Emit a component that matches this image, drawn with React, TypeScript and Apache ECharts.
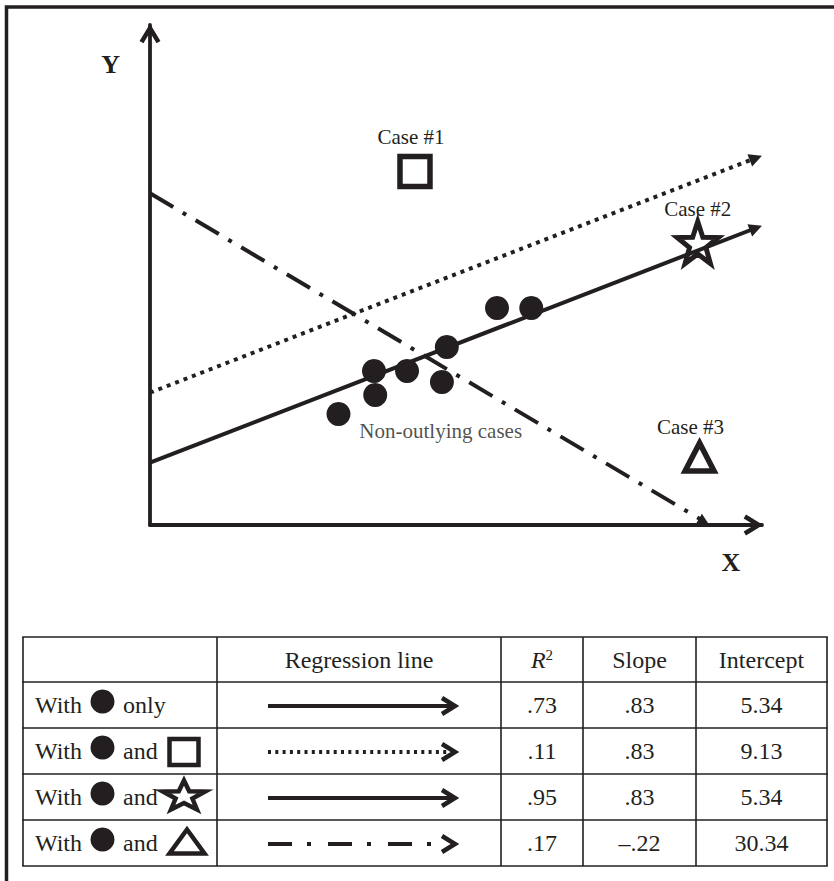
import React, { useEffect, useRef } from 'react';
import * as echarts from 'echarts';

const INK = '#231f20';
const FONT = '"Liberation Serif", "Times New Roman", Times, serif';

// ---------- chart data (arbitrary axis units, 0–100 on both axes) ----------
const nonOutlyingX = [30.8, 36.8, 36.6, 42.0, 47.7, 48.5, 56.7, 62.3];
const nonOutlyingY = [22.2, 26.0, 30.8, 30.8, 28.6, 35.6, 43.4, 43.4];

const caseNames = ['Case #1', 'Case #2', 'Case #3'];
const caseX = [43.3, 89.5, 89.8];
const caseY = [70.7, 56.5, 13.6];

const solidLine = [[0, 12.46], [99.0, 59.4]];
const dottedLine = [[0, 26.46], [99.0, 73.4]];
const dashDotLine = [[0, 66.34], [90.5, 0.74]];

const annotationText = 'Non-outlying cases';
const annotationPos = [47.5, 18.9];

const axisNames = ['X', 'Y'];
// axis ends: [x, y, direction (0 = right, 1 = up)]
const axisEnds = [[100, 0, 0], [0, 100, 1]];

// ---------- table data ----------
const tableHeaders = ['', 'Regression line', 'R2', 'Slope', 'Intercept'];
const rowLead = ['With', 'With', 'With', 'With'];
const rowConnectors = ['only', 'and', 'and', 'and'];
const rowMarkers = ['', 'square', 'star', 'triangle'];
const rowLineStyles = ['solid', 'dotted', 'solid', 'dashdot'];
const r2Values = ['.73', '.11', '.95', '.17'];
const slopeValues = ['.83', '.83', '.83', '\u2013.22'];
const interceptValues = ['5.34', '9.13', '5.34', '30.34'];

// ---------- shapes / styles ----------
const STAR_PATH =
  'path://M50 0 L61.76 33.82 L97.55 34.55 L69.02 56.18 L79.39 90.45 L50 70 L20.61 90.45 L30.98 56.18 L2.45 34.55 L38.24 33.82 Z';

const caseStyles = [
  { symbol: 'rect', size: [30, 30], fill: '#fff', border: 5.5, dist: 6, offset: [-4, 0] },
  { symbol: STAR_PATH, size: [41, 42], fill: 'rgba(255,255,255,0)', border: 5, dist: -1, offset: [0, 0] },
  { symbol: 'triangle', size: [29, 28], fill: '#fff', border: 5.5, dist: 3, offset: [-9, 0] },
];

function starPoints(cx: number, cy: number, w: number, h: number, inner = 0.4) {
  const pts: number[][] = [];
  for (let k = 0; k < 10; k++) {
    const a = -Math.PI / 2 + (k * Math.PI) / 5;
    const r = k % 2 === 0 ? 1 : inner;
    pts.push([cx + (r * Math.cos(a) * w) / 1.902, cy + ((r * Math.sin(a) + 0.0955) * h) / 1.809]);
  }
  return pts;
}

function buildTable() {
  const els: any[] = [];
  const colX = [23, 217, 501, 583, 696, 827];
  const rowY = [637, 682, 728, 774, 820, 866];
  const lineStyle = { stroke: INK, lineWidth: 1.6 };
  rowY.forEach((y) =>
    els.push({ type: 'line', silent: true, shape: { x1: colX[0] - 0.8, y1: y, x2: colX[5] + 0.8, y2: y }, style: lineStyle })
  );
  colX.forEach((x) =>
    els.push({ type: 'line', silent: true, shape: { x1: x, y1: rowY[0], x2: x, y2: rowY[5] }, style: lineStyle })
  );
  const txt = (text: string, x: number, y: number, align = 'center') => ({
    type: 'text',
    silent: true,
    x,
    y,
    style: { text, fill: INK, fontSize: 24, fontFamily: FONT, align, verticalAlign: 'middle' },
  });
  const colCenter = (c: number) => (colX[c] + colX[c + 1]) / 2;
  const headY = (rowY[0] + rowY[1]) / 2;
  tableHeaders.forEach((h, c) => {
    if (!h) return;
    if (h === 'R2') {
      els.push({
        type: 'text',
        silent: true,
        x: colCenter(c),
        y: headY,
        style: {
          text: '{i|R}{s|2}',
          align: 'center',
          verticalAlign: 'middle',
          fill: INK,
          rich: {
            i: { fontSize: 24, fontStyle: 'italic', fontFamily: FONT, fill: INK },
            s: { fontSize: 15, fontFamily: FONT, fill: INK, verticalAlign: 'top' },
          },
        },
      });
    } else {
      els.push(txt(h, colCenter(c), headY));
    }
  });

  for (let i = 0; i < 4; i++) {
    const cy = (rowY[i + 1] + rowY[i + 2]) / 2;
    els.push(txt(rowLead[i], 35, cy, 'left'));
    els.push({ type: 'circle', silent: true, shape: { cx: 102.5, cy: cy - 3.5, r: 12 }, style: { fill: INK } });
    els.push(txt(rowConnectors[i], 123, cy, 'left'));
    const m = rowMarkers[i];
    if (m === 'square') {
      els.push({
        type: 'rect',
        silent: true,
        shape: { x: 184 - 14.5, y: cy + 1 - 13, width: 29, height: 26 },
        style: { fill: '#fff', stroke: INK, lineWidth: 4.5 },
      });
    } else if (m === 'star') {
      els.push({
        type: 'polygon',
        silent: true,
        shape: { points: starPoints(184, cy - 2, 42, 29) },
        style: { fill: '#fff', stroke: INK, lineWidth: 4.5, lineJoin: 'miter' },
      });
    } else if (m === 'triangle') {
      const cx = 187, ty = cy - 1.5, w = 35, h = 24;
      els.push({
        type: 'polygon',
        silent: true,
        shape: { points: [[cx, ty - h / 2], [cx + w / 2, ty + h / 2], [cx - w / 2, ty + h / 2]] },
        style: { fill: '#fff', stroke: INK, lineWidth: 4.5 },
      });
    }
    // regression-line sample
    const ly = cy + 1;
    const ls = rowLineStyles[i];
    const dash = ls === 'dotted' ? [3, 4.3] : ls === 'dashdot' ? [24, 15, 4, 17] : null;
    els.push({
      type: 'line',
      silent: true,
      shape: { x1: 268, y1: ly, x2: ls === 'solid' ? 454 : 448, y2: ly },
      style: { stroke: INK, lineWidth: 3.8, lineDash: dash, lineCap: 'butt' },
    });
    els.push({
      type: 'polyline',
      silent: true,
      shape: { points: [[442, ly - 8], [455, ly], [442, ly + 8]] },
      style: { stroke: INK, lineWidth: 4.5, fill: null },
    });
    els.push(txt(r2Values[i], colCenter(2), cy));
    els.push(txt(slopeValues[i], colCenter(3), cy));
    els.push(txt(interceptValues[i], colCenter(4), cy));
  }
  return els;
}

function buildOption() {
  const axisCommon = {
    type: 'value',
    min: 0,
    max: 100,
    axisTick: { show: false },
    axisLabel: { show: false },
    splitLine: { show: false },
    axisLine: {
      show: true,
      onZero: false,
      lineStyle: { color: INK, width: 3.8 },
    },
    nameLocation: 'end',
  };
  const lineSeries = (coords: number[][], type: any, name: string, arrow: number[]) => ({
    type: 'lines',
    name,
    coordinateSystem: 'cartesian2d',
    silent: true,
    clip: false,
    polyline: false,
    symbol: ['none', 'triangle'],
    symbolSize: arrow,
    lineStyle: { color: INK, width: 4, type, cap: 'butt', opacity: 1 },
    data: [{ coords }],
  });
  return {
    animation: false,
    backgroundColor: '#fff',
    grid: { left: 150, right: 72, top: 25, bottom: 356 },
    xAxis: { ...axisCommon },
    yAxis: {
      ...axisCommon,
      name: axisNames[1],
      nameGap: -39,
      nameTextStyle: {
        fontFamily: FONT,
        fontWeight: 'bold',
        fontSize: 26,
        color: INK,
        align: 'right',
        verticalAlign: 'middle',
        padding: [0, 30, 0, 0],
      },
    },
    series: [
      {
        type: 'custom',
        name: 'axis arrows',
        silent: true,
        clip: false,
        data: axisEnds,
        renderItem: (_params: any, api: any) => {
          const p = api.coord([api.value(0), api.value(1)]);
          const dir = api.value(2);
          const L = 14, W = 8.5, back = 3.2;
          const pts =
            dir === 0
              ? [[p[0] - back - L, p[1] - W], [p[0] - back, p[1]], [p[0] - back - L, p[1] + W]]
              : [[p[0] - W, p[1] + back + L], [p[0], p[1] + back], [p[0] + W, p[1] + back + L]];
          return {
            type: 'polyline',
            shape: { points: pts },
            style: { stroke: INK, lineWidth: 4.5, fill: null, lineJoin: 'miter' },
          };
        },
      },
      lineSeries(solidLine, 'solid', 'With non-outlying cases only', [11, 13]),
      lineSeries(dottedLine, [4, 5], 'With Case #1', [12, 13]),
      lineSeries(dashDotLine, [27, 11, 4, 11], 'With Case #3', [10, 11]),
      {
        type: 'scatter',
        name: 'Non-outlying cases',
        silent: true,
        symbol: 'circle',
        symbolSize: 24,
        itemStyle: { color: INK, opacity: 1 },
        data: nonOutlyingX.map((x, i) => [x, nonOutlyingY[i]]),
        z: 3,
      },
      {
        type: 'scatter',
        name: 'Outlying cases',
        silent: true,
        z: 4,
        data: caseNames.map((n, i) => {
          const s = caseStyles[i];
          return {
            name: n,
            value: [caseX[i], caseY[i]],
            symbol: s.symbol,
            symbolSize: s.size,
            itemStyle: { color: s.fill, borderColor: INK, borderWidth: s.border, opacity: 1 },
            label: {
              show: true,
              position: 'top',
              distance: s.dist,
              offset: s.offset,
              formatter: n,
              color: INK,
              fontFamily: FONT,
              fontSize: 21,
            },
          };
        }),
      },
      {
        type: 'scatter',
        name: 'annotation',
        silent: true,
        symbolSize: 0.1,
        itemStyle: { color: 'rgba(0,0,0,0)' },
        label: {
          show: true,
          position: 'inside',
          formatter: annotationText,
          color: INK,
          fontFamily: FONT,
          fontSize: 21,
        },
        data: [annotationPos],
      },
    ],
    graphic: [
      {
        type: 'rect',
        silent: true,
        shape: { x: 6.5, y: 7, width: 900, height: 900 },
        style: { fill: 'none', stroke: INK, lineWidth: 3.5 },
      },
      {
        type: 'text',
        silent: true,
        x: 731,
        y: 562,
        style: {
          text: axisNames[0],
          fill: INK,
          fontSize: 26,
          fontWeight: 'bold',
          fontFamily: FONT,
          align: 'center',
          verticalAlign: 'middle',
        },
      },
      ...buildTable(),
    ],
  };
}

export default function App() {
  const ref = useRef<HTMLDivElement>(null);
  useEffect(() => {
    if (!ref.current) return;
    const chart = echarts.init(ref.current, undefined, { renderer: 'svg' });
    chart.setOption(buildOption() as any);
    return () => chart.dispose();
  }, []);
  return (
    <div
      ref={ref}
      style={{ position: 'absolute', left: 0, top: 0, width: 834, height: 881, background: '#fff' }}
    />
  );
}
